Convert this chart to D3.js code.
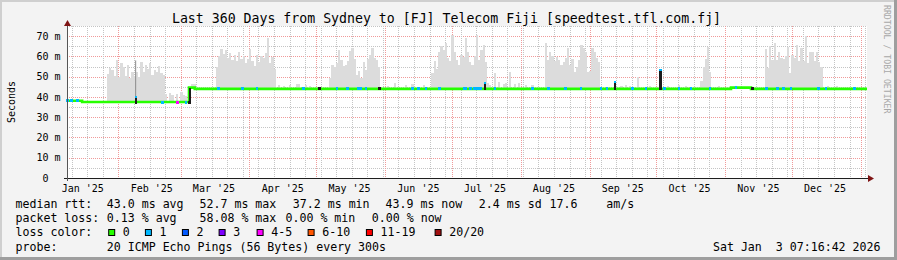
<!DOCTYPE html>
<html lang="en">
<head>
<meta charset="UTF-8">
<title>Last 360 Days from Sydney to [FJ] Telecom Fiji</title>
<script src="https://d3js.org/d3.v7.min.js"></script>
<style>
  body { margin: 0; background: #f3f3f3; }
  text { font-family: "DejaVu Sans Mono", monospace; white-space: pre; }
</style>
</head>
<body>
<svg id="chart" width="897" height="260"></svg>
<script>
// ---- data ----
const titleText = "Last 360 Days from Sydney to [FJ] Telecom Fiji [speedtest.tfl.com.fj]";
const endTime = Date.UTC(2026, 0, 3, 21, 0);   // right edge of the time axis
const windowDays = 360;
const yMax = 75;                                 // ms at top of plot
const yTicks = [0, 10, 20, 30, 40, 50, 60, 70];

// median rtt steps: [days since start of window, ms]
const medianSteps = [
  [0, 38.1], [6.8, 37.5], [54.9, 44.6], [57.5, 44.0],
  [298.8, 44.6], [307.8, 44.0], [360, 44.0]
];

// smoke (max of pings) per day: [day, ms]
const smoke = [
  [18, 51.5], [19, 54.5], [20, 53.5], [21, 50.5], [22, 58.3], [23, 50], [24, 56.7], [25, 55],
  [26, 50.5], [27, 55.8], [28, 49.5], [29, 52.5], [30, 50.5], [31, 52.5], [32, 50], [33, 57.2],
  [34, 52.5], [35, 55.8], [36, 54], [37, 56.7], [38, 50.9], [39, 53.4], [40, 52.5], [41, 55.5],
  [42, 52], [43, 51],
  [44, 41.5], [46, 42], [47, 41], [49, 41.5], [51, 42.5], [52, 41], [53, 40.5],
  [56, 46.5], [57, 46.6],
  [67, 55], [68, 60], [69, 63.7], [70, 61], [71, 63], [72, 59], [73, 61.5], [74, 58], [75, 60.5],
  [76, 57.5], [77, 62.4], [78, 58.5], [79, 60], [80, 56.5], [81, 58.5], [82, 63.7], [83, 57.5],
  [84, 55.5], [85, 60.5], [86, 57], [87, 60], [88, 59], [89, 61.5], [90, 69], [91, 56.5], [92, 59.5], [93, 54],
  [95, 46], [97, 45.5], [100, 46], [103, 46.6], [104, 46.6], [107, 46], [109, 45.5],
  [118, 49.5], [119, 55.8], [120, 55], [121, 56.5], [122, 63.2], [123, 58], [124, 55.5], [125, 55.8],
  [126, 57.5], [127, 62.5], [128, 64], [129, 58.5], [130, 51], [131, 53], [132, 49.5], [133, 57],
  [134, 53.5], [135, 58.5], [136, 60.5], [137, 64], [138, 59], [139, 58], [140, 55],
  [144, 45.5], [147, 46.7], [152, 46], [155, 46.5], [160, 46],
  [164, 52], [165, 57.5], [166, 54], [167, 62.4], [168, 65], [169, 63], [170, 66.5], [171, 59],
  [172, 57.5], [173, 70.5], [174, 62], [175, 58], [176, 55.8], [177, 60.8], [178, 59.5], [179, 69],
  [180, 62.4], [181, 57], [182, 56], [183, 60], [184, 70.6], [185, 58.3], [186, 63], [187, 65.7], [188, 57],
  [189, 47], [190, 46], [192, 51.7], [194, 47.5], [196, 46.5], [197, 47], [199, 52.5], [201, 46.5],
  [203, 47], [206, 46], [209, 46],
  [215, 66.5], [216, 58], [217, 62.4], [218, 60], [219, 57.5], [220, 59.5], [221, 58], [222, 55.8],
  [223, 57], [224, 59], [225, 64], [226, 56], [227, 58.5], [228, 52.5], [229, 55], [230, 58],
  [231, 65.7], [232, 64], [233, 62], [234, 52.5], [235, 53], [236, 64], [237, 62.4], [238, 59], [239, 57],
  [249, 45.5], [251, 45.8], [253, 45.5], [256.5, 50], [262, 45.5], [270, 45.5], [275, 45.8], [278, 45.5],
  [285, 48], [286, 55], [287, 58.6], [288, 64.4], [289, 52.5], [293, 45.5],
  [314, 63.7], [315, 54.2], [316, 64.9], [317, 58], [318, 66.5], [319, 58.3], [320, 62], [321, 59],
  [322, 58.5], [323, 60], [324, 64.4], [325, 51.7], [326, 60.8], [327, 59], [328, 65.7], [329, 57.5],
  [330, 64], [331, 57.5], [332, 70.3], [333, 56.7], [334, 62.4], [335, 62.4], [336, 57.5], [337, 62],
  [338, 57], [339, 55], [342, 45.5], [346, 45.3]
];
const darkSmoke = [[30.9, 58]];

// days with 1/20 loss (blue), 4-5/20 loss (magenta)
const loss1Days = [0.1, 1.8, 4.5, 30.9, 42.9, 53.4, 68.1, 78.9, 85.4, 106.3, 121.4, 126.1,
  131.1, 132.2, 134.4, 155.4, 158, 161.4, 167.4, 178.7, 179.4, 181.4, 183.2, 184.7, 185.9, 192.5,
  209.4, 216.5, 224.1, 231.2, 240.2, 242.9, 254.4, 260.4, 268.7, 275.2, 280.7, 289.2, 300.9,
  314.7, 319.7, 322.2, 325.7, 338, 341.4, 354.2];
const loss45Days = [49.6];

// dark spikes of the median: [day, top ms]
const spikes = [[30.9, 39.7], [188, 46.8], [246.5, 47], [266.9, 52.9]];
const stepDay = 54.9;
const darkDots = [113.4, 140.4, 308.4];

// legend
const lossLabels = ["0", "1", "2", "3", "4-5", "6-10", "11-19", "20/20"];
const lossColors = ["#26ff00", "#00b8ff", "#0059ff", "#7e00ff", "#ff00ff", "#ff5500", "#ff0000", "#a01010"];
const rttStats = ["43.0 ms avg", "52.7 ms max", "37.2 ms min", "43.9 ms now", "2.4 ms sd", "17.6", "am/s"];
const lossStats = ["0.13 % avg", "58.08 % max", "0.00 % min", "0.00 % now"];
const probeText = "20 ICMP Echo Pings (56 Bytes) every 300s";
const stampText = "Sat Jan  3 07:16:42 2026";

// ---- drawing ----
const svg = d3.select("#chart");
const W = 897, H = 260;
const plot = { left: 67, right: 867, top: 26, bottom: 178 };
const dayMs = 864e5;
const t0 = endTime - windowDays * dayMs;

const x = d3.scaleUtc().domain([new Date(t0), new Date(endTime)]).range([plot.left, plot.right]);
const xd = d => x(new Date(t0 + d * dayMs));
const y = d3.scaleLinear().domain([0, yMax]).range([plot.bottom, plot.top]);

const medianAt = d => {
  const i = d3.bisector(s => s[0]).right(medianSteps, d) - 1;
  return medianSteps[Math.max(0, i)][1];
};

// canvas + border
svg.append("rect").attr("width", W).attr("height", H).attr("fill", "#f3f3f3");
svg.append("rect").attr("x", 0).attr("y", 0).attr("width", W).attr("height", 2).attr("fill", "#cfcfcf");
svg.append("rect").attr("x", 0).attr("y", 0).attr("width", 2).attr("height", H).attr("fill", "#cfcfcf");
svg.append("rect").attr("x", 0).attr("y", H - 3).attr("width", W).attr("height", 3).attr("fill", "#9e9e9e");
svg.append("rect").attr("x", W - 3).attr("y", 0).attr("width", 3).attr("height", H).attr("fill", "#9e9e9e");

// plot background
svg.append("rect")
  .attr("x", plot.left).attr("y", plot.top)
  .attr("width", plot.right - plot.left).attr("height", plot.bottom - plot.top)
  .attr("fill", "#ffffff");

const grid = svg.append("g").attr("fill", "none").attr("stroke-dasharray", "1,1");
const minorCol = "#c4c4c4", majorCol = "#f09a9a";

// horizontal grid
d3.range(5, yMax + 1, 10).forEach(v => {
  const yy = Math.round(y(v)) + 0.5;
  grid.append("line").attr("x1", plot.left).attr("x2", plot.right).attr("y1", yy).attr("y2", yy).attr("stroke", minorCol);
});
yTicks.filter(v => v > 0).forEach(v => {
  const yy = Math.round(y(v)) + 0.5;
  grid.append("line").attr("x1", plot.left).attr("x2", plot.right).attr("y1", yy).attr("y2", yy).attr("stroke", majorCol);
});

// vertical grid: weeks (minor) and months (major)
const tEnd = new Date(endTime), tStart = new Date(t0);
d3.utcSaturday.range(tStart, tEnd).forEach(t => {
  const xx = Math.round(x(t)) + 0.5;
  grid.append("line").attr("x1", xx).attr("x2", xx).attr("y1", plot.top).attr("y2", plot.bottom).attr("stroke", minorCol);
});
d3.utcMonth.range(tStart, tEnd).forEach(t => {
  const xx = Math.round(x(t)) + 0.5;
  grid.append("line").attr("x1", xx).attr("x2", xx).attr("y1", plot.top).attr("y2", plot.bottom).attr("stroke", majorCol);
});

// smoke
svg.append("g").attr("shape-rendering", "crispEdges").selectAll("rect")
  .data(smoke).join("rect")
  .attr("x", d => xd(d[0]))
  .attr("width", d => xd(d[0] + 1) - xd(d[0]))
  .attr("y", d => y(d[1]))
  .attr("height", d => y(medianAt(d[0])) - y(d[1]))
  .attr("fill", "#dcdcdc");
svg.append("g").selectAll("line")
  .data(darkSmoke).join("line")
  .attr("x1", d => xd(d[0])).attr("x2", d => xd(d[0]))
  .attr("y1", d => y(d[1])).attr("y2", d => y(medianAt(d[0])))
  .attr("stroke", "#8a8a8a").attr("stroke-width", 1);

// median line
const line = d3.line().x(d => xd(d[0])).y(d => y(d[1])).curve(d3.curveStepAfter);
svg.append("path").datum(medianSteps)
  .attr("d", line).attr("fill", "none")
  .attr("stroke", lossColors[0]).attr("stroke-width", 2.6);

// loss colour marks on the median
const marks = svg.append("g").attr("shape-rendering", "crispEdges");
loss1Days.forEach(d => {
  marks.append("rect").attr("x", xd(d) - 1).attr("y", y(medianAt(d)) - 1.5)
    .attr("width", 2.5).attr("height", 3).attr("fill", lossColors[1]);
});
loss45Days.forEach(d => {
  marks.append("rect").attr("x", xd(d) - 1).attr("y", y(medianAt(d)) - 1.5)
    .attr("width", 2.5).attr("height", 3).attr("fill", lossColors[4]);
});

// dark spikes
spikes.forEach(([d, top]) => {
  const base = y(medianAt(d)) + 1.5;
  marks.append("rect").attr("x", xd(d) - 1).attr("y", y(top))
    .attr("width", 2.5).attr("height", base - y(top)).attr("fill", "#1c1c1c");
  marks.append("rect").attr("x", xd(d) - 1).attr("y", y(top) - 1.5)
    .attr("width", 2.5).attr("height", 2).attr("fill", lossColors[1]);
});
marks.append("rect").attr("x", xd(stepDay) - 1).attr("y", y(medianAt(stepDay - 1)) - 1)
  .attr("width", 2.5).attr("height", 3).attr("fill", "#1c1c1c");
marks.append("rect").attr("x", xd(stepDay)).attr("y", y(medianAt(stepDay)))
  .attr("width", 1.5).attr("height", y(medianAt(stepDay - 1)) - y(medianAt(stepDay))).attr("fill", "#1c1c1c");
darkDots.forEach(d => {
  marks.append("rect").attr("x", xd(d) - 1).attr("y", y(medianAt(d)) - 1.5)
    .attr("width", 2.5).attr("height", 3).attr("fill", "#1c1c1c");
});

// axes
const axisCol = "#1e1e1e", arrowCol = "#7f1414";
const yb = plot.bottom + 0.5, xl = plot.left + 0.5;
svg.append("line").attr("x1", plot.left - 3).attr("x2", plot.right + 2).attr("y1", yb).attr("y2", yb)
  .attr("stroke", axisCol);
svg.append("line").attr("x1", xl).attr("x2", xl).attr("y1", plot.bottom + 3).attr("y2", plot.top - 4)
  .attr("stroke", "#555");
svg.append("path").attr("d", `M${plot.right + 1},${yb - 3.5}L${plot.right + 7},${yb}L${plot.right + 1},${yb + 3.5}Z`)
  .attr("fill", arrowCol);
svg.append("path").attr("d", `M${xl - 3.5},${plot.top}L${xl},${plot.top - 6}L${xl + 3.5},${plot.top}Z`)
  .attr("fill", arrowCol);

// y tick labels
svg.append("g").selectAll("text").data(yTicks).join("text")
  .attr("x", 60.5).attr("y", v => y(v) + 3.6)
  .attr("text-anchor", "end").attr("font-size", 10).attr("fill", "#000")
  .text(v => v === 0 ? "0\u00a0\u00a0" : v + " m");

// x tick labels, centered in the month
const fmt = d3.utcFormat("%b '%y");
const labelMonths = d3.utcMonth.range(d3.utcMonth.floor(tStart), tEnd)
  .filter(t => d3.utcDay.offset(t, 15) < tEnd);
svg.append("g").selectAll("text").data(labelMonths).join("text")
  .attr("x", t => x(d3.utcDay.offset(t, 15))).attr("y", 191.5)
  .attr("text-anchor", "middle").attr("font-size", 10).attr("fill", "#000")
  .text(fmt);

// title fitted to the width it has in the reference
const title = svg.append("text").attr("x", 446.5).attr("y", 23.3).attr("text-anchor", "middle")
  .attr("font-size", 100).attr("fill", "#000").text(titleText);
title.attr("font-size", 100 * 550 / title.node().getComputedTextLength());

svg.append("text").attr("transform", `translate(14.5,${(plot.top + plot.bottom) / 2}) rotate(-90)`)
  .attr("text-anchor", "middle").attr("font-size", 10).attr("fill", "#000").text("Seconds");
svg.append("text").attr("transform", "translate(883.5,5) rotate(90)")
  .attr("font-size", 8.2).attr("fill", "#a8a8a8").text("RRDTOOL / TOBI OETIKER");

// legend
const lg = svg.append("g").attr("font-size", 11.6).attr("fill", "#000");
const rows = [208, 222.2, 236.4, 250.6];
const rttX = [106.8, 199.5, 292.8, 385.5, 478.8, 549.5, 606.2];
const lossX = [106.8, 199.5, 285.5, 371.8];
const lossLegendX = [122.8, 159.5, 196.5, 233.2, 271.2, 322.2, 380.5, 449.2];
const say = (s, xx, yy) => lg.append("text").attr("xml:space", "preserve").attr("x", xx).attr("y", yy).text(s);

say("median rtt:", 15.5, rows[0]);
rttStats.forEach((s, i) => say(s, rttX[i], rows[0]));
say("packet loss:", 15.5, rows[1]);
lossStats.forEach((s, i) => say(s, lossX[i], rows[1]));
say("loss color:", 15.5, rows[2]);
lossLabels.forEach((s, i) => {
  lg.append("rect").attr("x", lossLegendX[i] - 14.1).attr("y", rows[2] - 6.9)
    .attr("width", 6).attr("height", 6)
    .attr("fill", lossColors[i]).attr("stroke", "#000").attr("stroke-width", 1);
  say(s, lossLegendX[i], rows[2]);
});
say("probe:", 15.5, rows[3]);
say(probeText, 106.8, rows[3]);
say(stampText, 880.5, rows[3]).attr("text-anchor", "end");
</script>
</body>
</html>
